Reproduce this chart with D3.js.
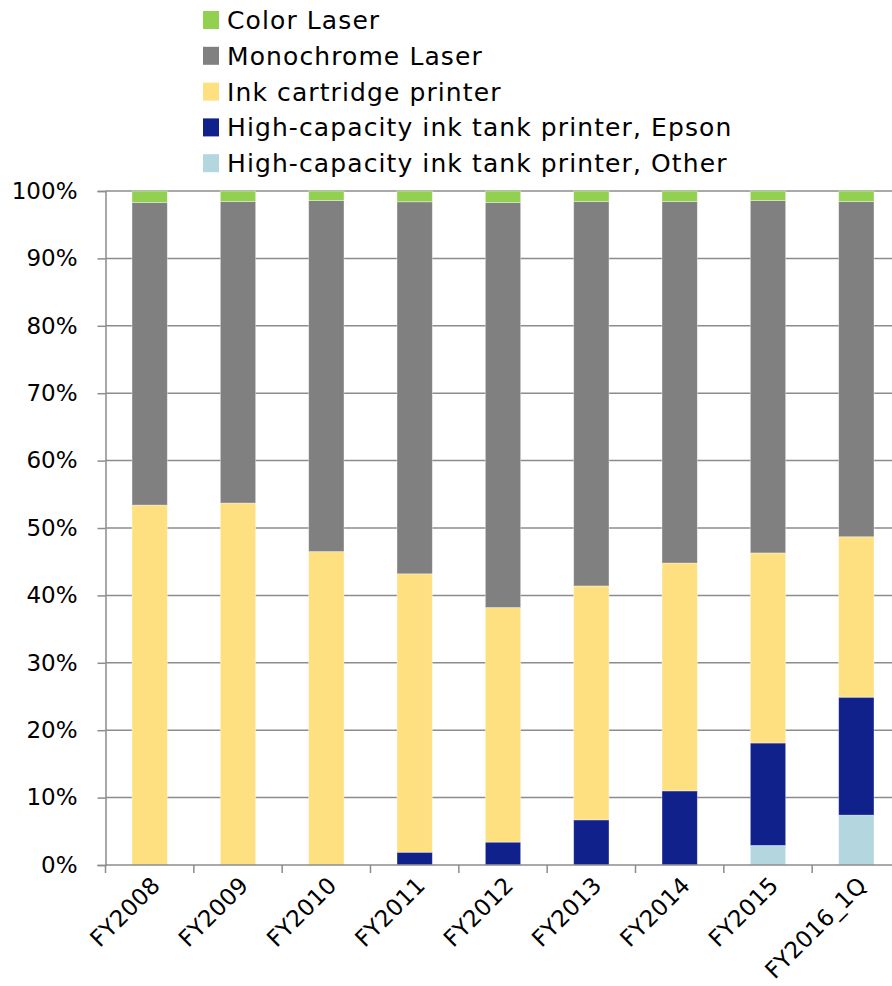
<!DOCTYPE html>
<html>
<head>
<meta charset="utf-8">
<script src="https://cdn.jsdelivr.net/npm/d3@7"></script>
<style>
  html, body { margin: 0; padding: 0; background: #fff; }
  svg { display: block; }
  text { font-family: "DejaVu Sans", Verdana, sans-serif; fill: #000; }
</style>
</head>
<body>
<svg id="chart" width="892" height="986"></svg>
<script>
const categories = ["FY2008","FY2009","FY2010","FY2011","FY2012","FY2013","FY2014","FY2015","FY2016_1Q"];
const seriesNames = ["Color Laser","Monochrome Laser","Ink cartridge printer","High-capacity ink tank printer, Epson","High-capacity ink tank printer, Other"];
const colorLaser   = [1.7, 1.55, 1.4, 1.6, 1.7, 1.55, 1.55, 1.4, 1.55];
const monoLaser    = [44.9, 44.75, 52.1, 55.2, 60.1, 57.05, 53.65, 52.3, 49.75];
const inkCartridge = [53.4, 53.7, 46.5, 41.3, 34.8, 34.7, 33.8, 28.2, 23.8];
const tankEpson    = [0, 0, 0, 1.9, 3.4, 6.7, 11.0, 15.2, 17.5];
const tankOther    = [0, 0, 0, 0, 0, 0, 0, 2.9, 7.4];
const yTicks = [0,10,20,30,40,50,60,70,80,90,100];
const colors = ["#92D050","#808080","#FFE080","#10218B","#B4D6DE"];

const valuesByName = {
  "Color Laser": colorLaser,
  "Monochrome Laser": monoLaser,
  "Ink cartridge printer": inkCartridge,
  "High-capacity ink tank printer, Epson": tankEpson,
  "High-capacity ink tank printer, Other": tankOther
};
const table = categories.map((c, i) => {
  const row = {cat: c};
  seriesNames.forEach(n => row[n] = valuesByName[n][i]);
  return row;
});
const colorOf = d3.scaleOrdinal().domain(seriesNames).range(colors);

const svg = d3.select("#chart");
const pLeft = 105.5, pRight = 900.5, pTop = 191, pBottom = 865;

const x = d3.scaleBand().domain(categories).range([pLeft, pRight]).paddingInner(0.6).paddingOuter(0.3);
const y = d3.scaleLinear().domain([0, 100]).range([pBottom, pTop]);
const step = x.step();

// gridlines
svg.append("g").selectAll("line").data(yTicks.filter(t => t > 0)).join("line")
  .attr("x1", pLeft).attr("x2", pRight)
  .attr("y1", d => y(d)).attr("y2", d => y(d))
  .attr("stroke", "#8c8c8c").attr("stroke-width", 1.5);

// y axis
const yAxis = d3.axisLeft(y).tickValues(yTicks).tickSize(8).tickPadding(6).tickFormat(d => d + "%");
const gy = svg.append("g").attr("transform", `translate(${pLeft},0)`).call(yAxis);
gy.select(".domain").attr("stroke", "#8c8c8c").attr("stroke-width", 1.5);
gy.selectAll(".tick line").attr("stroke", "#8c8c8c").attr("stroke-width", 1.5);
gy.selectAll(".tick text").attr("font-size", 23).attr("font-family", '"DejaVu Sans", Verdana, sans-serif').attr("fill", "#000").attr("x", -28);

// stacked bars
const stackKeys = seriesNames.slice().reverse();
const stacked = d3.stack().keys(stackKeys)(table);
svg.append("g").selectAll("g").data(stacked).join("g")
  .attr("fill", d => colorOf(d.key))
  .selectAll("rect").data(d => d).join("rect")
  .attr("x", d => x(d.data.cat))
  .attr("width", x.bandwidth())
  .attr("y", d => y(d[1]))
  .attr("height", d => Math.max(0, y(d[0]) - y(d[1])))
  .attr("stroke", "#ffffff").attr("stroke-opacity", 0.45).attr("stroke-width", 0.8);

// x axis line and ticks
svg.append("line").attr("x1", pLeft).attr("x2", pRight).attr("y1", pBottom).attr("y2", pBottom)
  .attr("stroke", "#8c8c8c").attr("stroke-width", 1.5);
const boundaries = categories.map(c => x(c) - step * 0.3).concat([x(categories[categories.length-1]) + x.bandwidth() + step * 0.3]);
svg.append("g").selectAll("line").data(boundaries).join("line")
  .attr("x1", d => d).attr("x2", d => d).attr("y1", pBottom).attr("y2", pBottom + 8)
  .attr("stroke", "#8c8c8c").attr("stroke-width", 1.5);

svg.append("g").selectAll("text").data(categories).join("text")
  .attr("transform", c => `translate(${x(c) + x.bandwidth()/2 + 6},${pBottom + 16}) rotate(-45)`)
  .attr("text-anchor", "end")
  .attr("dy", "0.35em")
  .attr("font-size", 23)
  .attr("letter-spacing", 0.2)
  .text(c => c);

// legend
const legend = svg.append("g").selectAll("g").data(seriesNames).join("g")
  .attr("transform", (d, i) => `translate(203,${20 + i * 35.8})`);
legend.append("rect").attr("x", 0).attr("y", -9).attr("width", 16).attr("height", 18)
  .attr("fill", d => colorOf(d));
legend.append("text").attr("x", 24).attr("dy", "0.36em").attr("font-size", 25)
  .attr("letter-spacing", 1.1).text(d => d);
</script>
</body>
</html>
